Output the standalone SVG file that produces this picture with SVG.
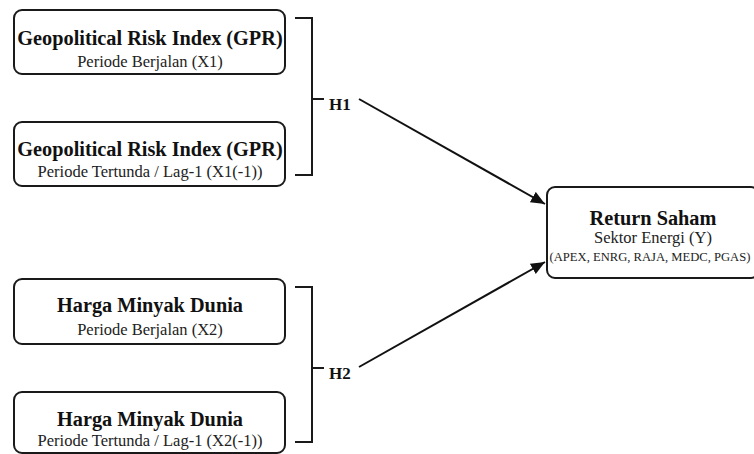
<svg xmlns="http://www.w3.org/2000/svg" width="754" height="454" viewBox="0 0 754 454">
<defs>
<style>
.box{fill:#fff;stroke:#1a1a1a;stroke-width:2}
.t{font-family:"Liberation Serif",serif;font-weight:bold;font-size:20.3px;fill:#111;text-anchor:middle}
.s{font-family:"Liberation Serif",serif;font-size:16.5px;fill:#222;text-anchor:middle}
.h{font-family:"Liberation Serif",serif;font-weight:bold;font-size:17px;fill:#111}
.br{fill:none;stroke:#1a1a1a;stroke-width:2}
.ar{fill:none;stroke:#111;stroke-width:2}
</style>
<marker id="arr" markerUnits="userSpaceOnUse" markerWidth="16" markerHeight="14" refX="14" refY="6" orient="auto">
<path d="M0,0 L14,6 L0,12 Z" fill="#111"/>
</marker>
</defs>
<rect width="754" height="454" fill="#fff"/>
<g id="x1">
<rect class="box" x="14" y="10" width="271" height="64" rx="8"/>
<text class="t" x="150" y="45">Geopolitical Risk Index (GPR)</text>
<text class="s" x="150" y="67">Periode Berjalan (X1)</text>
</g>
<g id="x1lag">
<rect class="box" x="14" y="122" width="271" height="64" rx="8"/>
<text class="t" x="150" y="156">Geopolitical Risk Index (GPR)</text>
<text class="s" x="150" y="177">Periode Tertunda / Lag-1 (X1(-1))</text>
</g>
<g id="x2">
<rect class="box" x="14" y="279" width="271" height="65" rx="8"/>
<text class="t" x="150" y="312">Harga Minyak Dunia</text>
<text class="s" x="150" y="335">Periode Berjalan (X2)</text>
</g>
<g id="x2lag">
<rect class="box" x="14" y="392" width="271" height="61" rx="8"/>
<text class="t" x="150" y="426">Harga Minyak Dunia</text>
<text class="s" x="150" y="446">Periode Tertunda / Lag-1 (X2(-1))</text>
</g>
<g id="y">
<rect class="box" x="547" y="187" width="212" height="91" rx="8"/>
<text class="t" x="653" y="225">Return Saham</text>
<text class="s" x="653" y="243">Sektor Energi (Y)</text>
<text class="s" x="650" y="261" style="font-size:12.6px">(APEX, ENRG, RAJA, MEDC, PGAS)</text>
</g>
<g id="h1">
<path class="br" d="M295,18 H312 V175 H295 M312,99 H324"/>
<text class="h" x="329" y="110">H1</text>
</g>
<g id="h2">
<path class="br" d="M295,287 H312 V442 H295 M312,368 H324"/>
<text class="h" x="329" y="379">H2</text>
</g>
<g id="connectors">
<line class="ar" x1="359" y1="99" x2="545" y2="204" marker-end="url(#arr)"/>
<line class="ar" x1="359" y1="367" x2="545" y2="262" marker-end="url(#arr)"/>
</g>
</svg>
